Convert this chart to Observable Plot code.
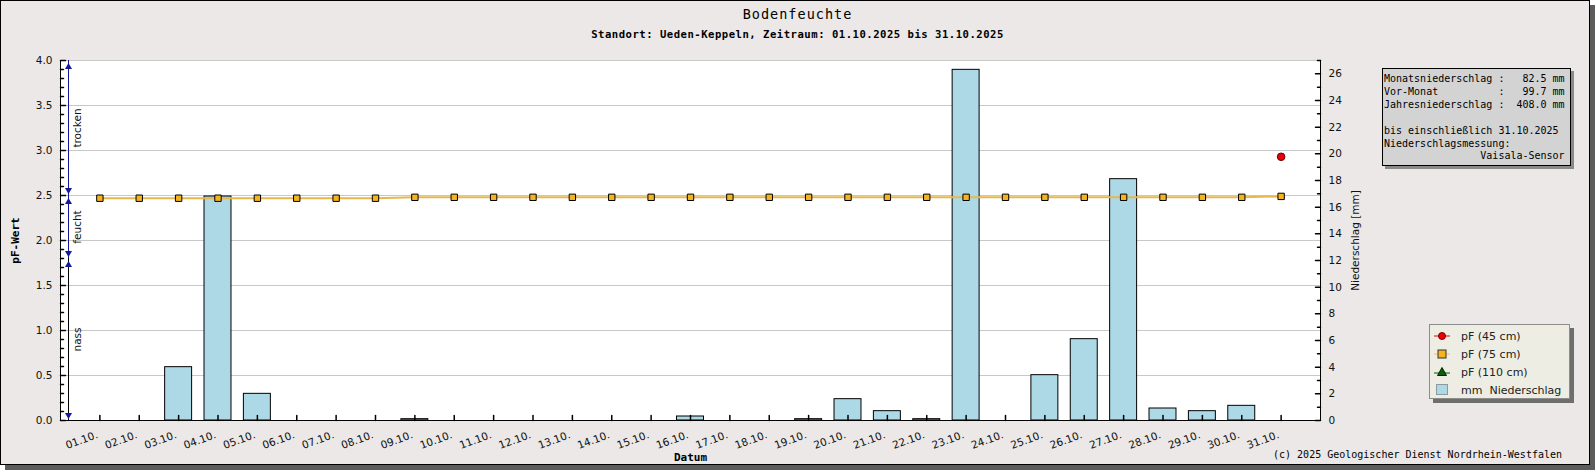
<!DOCTYPE html>
<html>
<head>
<meta charset="utf-8">
<script src="https://cdn.jsdelivr.net/npm/d3@7"></script>
<script src="https://cdn.jsdelivr.net/npm/@observablehq/plot@0.6"></script>
<style>
  html, body { margin: 0; padding: 0; background: #ffffff; }
  #chart { position: relative; width: 1595px; height: 470px; overflow: hidden; }
  #panel { position: absolute; left: 0; top: 0; width: 1590px; height: 465px; box-sizing: border-box;
           border: 1px solid #000; background: #ebe8e7; box-shadow: 5px 5px 0 #5c5c5c; }
  #plot { position: absolute; left: 0; top: 0; }
  #plot svg { display: block; }
  #info { position: absolute; left: 1382px; top: 68px; width: 189px; height: 98px; box-sizing: border-box;
          border: 1px solid #000; background: #d3d3d3; box-shadow: 3px 3px 0 #8a8a8a;
          padding: 4px 0 0 1px; font-family: "DejaVu Sans Mono", monospace; font-size: 10px;
          line-height: 12.9px; white-space: pre; color: #000; }
  #legend { position: absolute; left: 1429px; top: 324px; width: 141px; height: 75px; box-sizing: border-box;
            border: 1px solid #8c8c8c; background: #edede3; box-shadow: 4px 4px 0 #6e6e6e;
            padding-top: 2px; font-family: "DejaVu Sans", sans-serif; font-size: 11px; color: #222; }
  #legend .row { height: 18px; display: flex; align-items: center; }
  #legend svg { margin-left: 4px; margin-right: 10px; }
  #copy { position: absolute; left: 1100px; width: 462px; top: 449px; text-align: right;
          font-family: "DejaVu Sans Mono", monospace; font-size: 10px; line-height: 12px; color: #000; }
</style>
</head>
<body>
<div id="chart">
  <div id="panel"></div>
  <div id="plot"></div>
  <div id="info"></div>
  <div id="legend"></div>
  <div id="copy"></div>
</div>
<script>
// ---------- data ----------
const days = d3.range(1, 32);
const dayLabels = days.map(d => String(d).padStart(2, "0") + ".10.");
const rainMM = [0, 0, 4.0, 16.8, 2.0, 0, 0, 0, 0.1, 0, 0, 0, 0, 0, 0, 0.3, 0, 0, 0.1, 1.6,
                0.7, 0.1, 26.3, 0, 3.4, 6.1, 18.1, 0.9, 0.7, 1.1, 0];
const pf75 = [2.47, 2.47, 2.47, 2.47, 2.47, 2.47, 2.47, 2.47, 2.48, 2.48, 2.48, 2.48, 2.48, 2.48, 2.48, 2.48,
              2.48, 2.48, 2.48, 2.48, 2.48, 2.48, 2.48, 2.48, 2.48, 2.48, 2.48, 2.48, 2.48, 2.48, 2.49];
const pf45 = [null, null, null, null, null, null, null, null, null, null, null, null, null, null, null, null,
              null, null, null, null, null, null, null, null, null, null, null, null, null, null, 2.93];
const pf110 = days.map(() => null);
const pfMajorTicks = [0, 0.5, 1.0, 1.5, 2.0, 2.5, 3.0, 3.5, 4.0];
const mmTicks = [0, 2, 4, 6, 8, 10, 12, 14, 16, 18, 20, 22, 24, 26];
const zoneNames = ["trocken", "feucht", "nass"];
const zoneLow = [2.5, 1.8, 0];
const zoneHigh = [4.0, 2.5, 1.8];
const title = "Bodenfeuchte";
const subtitle = "Standort: Ueden-Keppeln, Zeitraum: 01.10.2025 bis 31.10.2025";
const monthTotal = 82.5, prevMonthTotal = 99.7, yearTotal = 408.0;
const untilDate = "31.10.2025";
const sensor = "Vaisala-Sensor";
const legendLabels = ["pF (45 cm)", "pF (75 cm)", "pF (110 cm)", "mm\u00a0\u00a0Niederschlag"];
const copyright = "(c) 2025 Geologischer Dienst Nordrhein-Westfalen";

// ---------- derived tables ----------
const pfMax = 4, mmMax = 27;
const k = pfMax / mmMax; // mm -> pF axis units
const rows = days.map((d, i) => ({day: d, label: dayLabels[i], mm: rainMM[i], pf75: pf75[i], pf45: pf45[i], pf110: pf110[i]}));
const zones = zoneNames.map((n, i) => ({name: n, lo: zoneLow[i], hi: zoneHigh[i]}));
const pfMinorTicks = d3.range(0, 41).filter(i => i % 5 !== 0).map(i => i / 10);
const mmMinorTicks = d3.range(1, 28, 2);

const mono = "DejaVu Sans Mono";
const navy = "#16169a";
const tickShape = {draw(ctx, l) { ctx.moveTo(0, 0); ctx.lineTo(0, -l); }};
const triDown = {draw(ctx, size) {
  const y = Math.sqrt(size / (Math.sqrt(3) * 3));
  ctx.moveTo(0, 2 * y); ctx.lineTo(-Math.sqrt(3) * y, -y); ctx.lineTo(Math.sqrt(3) * y, -y); ctx.closePath();
}};
const xDomain = [0, 32];

const chart = Plot.plot({
  width: 1595, height: 470,
  marginLeft: 60, marginRight: 275, marginTop: 60, marginBottom: 50,
  x: {domain: xDomain, axis: null},
  y: {domain: [0, pfMax]},
  style: {fontFamily: "DejaVu Sans", fontSize: "10.5px", background: "transparent", color: "#111", overflow: "visible"},
  marks: [
    Plot.frame({fill: "#ffffff", stroke: null}),
    Plot.ruleY(pfMajorTicks.filter(v => v > 0), {stroke: "#c8c8c8", strokeOpacity: 1}),
    Plot.rectY(rows.filter(r => r.mm > 0), {
      x1: r => r.day - 0.5, x2: r => r.day + 0.5, y1: 0, y2: r => r.mm * k,
      insetLeft: 6.2, insetRight: 6.2, fill: "#add8e6", stroke: "#000", strokeWidth: 1
    }),
    Plot.ruleY([0], {stroke: "#000"}),
    Plot.ruleX(xDomain, {stroke: "#000"}),
    // left axis
    Plot.axisY(pfMajorTicks, {anchor: "left", tickSize: 0, tickPadding: 8, tickFormat: d3.format(".1f"), label: null}),
    Plot.vector(pfMajorTicks, {y: d => d, frameAnchor: "left", length: 5, rotate: 90, anchor: "start", shape: tickShape, stroke: "#000"}),
    Plot.vector(pfMinorTicks, {y: d => d, frameAnchor: "left", length: 3, rotate: 90, anchor: "start", shape: tickShape, stroke: "#000"}),
    // right axis (mm)
    Plot.axisY(mmTicks.map(v => v * k), {anchor: "right", tickSize: 0, tickPadding: 8, tickFormat: d => Math.round(d / k), label: null}),
    Plot.vector(mmTicks.map(v => v * k), {y: d => d, frameAnchor: "right", length: 5, rotate: -90, anchor: "start", shape: tickShape, stroke: "#000"}),
    Plot.vector(mmMinorTicks.map(v => v * k), {y: d => d, frameAnchor: "right", length: 3, rotate: -90, anchor: "start", shape: tickShape, stroke: "#000"}),
    // x axis
    Plot.vector(rows, {x: "day", frameAnchor: "bottom", length: 5, anchor: "start", shape: tickShape, stroke: "#000"}),
    Plot.text(rows, {x: "day", frameAnchor: "bottom", text: "label", rotate: -20, textAnchor: "end", lineAnchor: "middle", dx: -2.5, dy: 14, fill: "#111"}),
    // zones annotation
    Plot.ruleX(zones, {x: () => xDomain[0], y1: "lo", y2: "hi", dx: 8, stroke: d => d.name === "nass" ? "#000" : navy}),
    Plot.dot(zones, {x: () => xDomain[0], y: "hi", dx: 8, dy: 6.5, symbol: "triangle", r: 2.6, fill: navy, stroke: null}),
    Plot.dot(zones, {x: () => xDomain[0], y: "lo", dx: 8, dy: -5.5, symbol: triDown, r: 2.6, fill: navy, stroke: null}),
    Plot.text(zones, {x: () => xDomain[0], y: d => (d.lo + d.hi) / 2, text: "name", rotate: -90, dx: 17, fill: "#111"}),
    // pF series
    Plot.line(rows, {x: "day", y: "pf75", stroke: "#e6b84e", strokeWidth: 2}),
    Plot.dot(rows, {x: "day", y: "pf75", symbol: "square", r: 3.6, fill: "#f5b41e", stroke: "#000", strokeWidth: 1}),
    Plot.line(rows, {x: "day", y: "pf45", stroke: "#e8000b", strokeWidth: 1}),
    Plot.dot(rows, {x: "day", y: "pf45", r: 3.8, fill: "#e8000b", stroke: "#600000", strokeWidth: 1}),
    Plot.line(rows, {x: "day", y: "pf110", stroke: "#0a5a0a", strokeWidth: 1}),
    Plot.dot(rows, {x: "day", y: "pf110", symbol: "triangle", r: 3.8, fill: "#0b5e0b", stroke: "#000"}),
    // titles and axis labels
    Plot.text([title], {frameAnchor: "top", lineAnchor: "middle", dx: 107, dy: -45.5, fontFamily: mono, fontSize: 13.5, fill: "#000", className: "ttl"}),
    Plot.text([subtitle], {frameAnchor: "top", lineAnchor: "middle", dx: 107, dy: -26, fontFamily: mono, fontSize: 10.6, fontWeight: "bold", fill: "#000", className: "sub"}),
    Plot.text(["Datum"], {frameAnchor: "bottom", lineAnchor: "middle", dy: 37, fontFamily: mono, fontSize: 11, fontWeight: "bold", fill: "#000"}),
    Plot.text(["pF-Wert"], {frameAnchor: "left", textAnchor: "middle", dx: -45, rotate: -90, fontFamily: mono, fontSize: 11, fontWeight: "bold", fill: "#000"}),
    Plot.text(["Niederschlag [mm]"], {frameAnchor: "right", textAnchor: "middle", dx: 35, rotate: -90, fill: "#111"})
  ]
});
d3.select(chart).selectAll("g.ttl text").attr("letter-spacing", "1px");
d3.select(chart).selectAll("g.sub text").attr("letter-spacing", "0.5px");
document.getElementById("plot").appendChild(chart);

// info box
const fmt = v => v.toFixed(1).padStart(7, " ") + " mm";
const infoLines = [
  "Monatsniederschlag :" + fmt(monthTotal),
  "Vor-Monat".padEnd(19, " ") + ":" + fmt(prevMonthTotal),
  "Jahresniederschlag :" + fmt(yearTotal),
  "",
  "bis einschließlich " + untilDate,
  "Niederschlagsmessung:",
  sensor.padStart(30, " ")
];
document.getElementById("info").textContent = infoLines.join("\n");

// legend
const legendSymbols = [
  '<line x1="0" y1="6" x2="16" y2="6" stroke="#e8000b"/><circle cx="8" cy="6" r="3.5" fill="#e8000b" stroke="#800000"/>',
  '<line x1="0" y1="6" x2="16" y2="6" stroke="#f2c46a"/><rect x="4" y="2" width="8" height="8" fill="#f5b41e" stroke="#333"/>',
  '<line x1="0" y1="7" x2="16" y2="7" stroke="#0a5a0a"/><path d="M8,1.5L12.5,9.5L3.5,9.5Z" fill="#0b5e0b" stroke="#032803"/>',
  '<rect x="2.5" y="0.5" width="11" height="10" fill="#add8e6" stroke="#8a9aa0"/>'
];
document.getElementById("legend").innerHTML = legendLabels.map((l, i) =>
  `<div class="row"><svg width="17" height="12" viewBox="0 0 17 12">${legendSymbols[i]}</svg><span>${l}</span></div>`
).join("");

document.getElementById("copy").textContent = copyright;
</script>
</body>
</html>
